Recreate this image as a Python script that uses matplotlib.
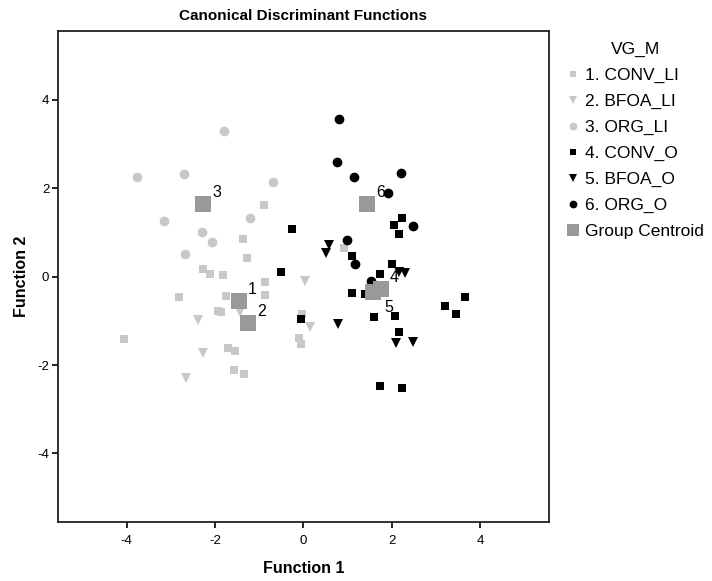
import numpy as np
import matplotlib.pyplot as plt

narrow = ['Liberation Sans Narrow', 'DejaVu Sans Condensed', 'Liberation Sans', 'DejaVu Sans']
plain = ['Liberation Sans', 'DejaVu Sans']
plt.rcParams['font.family'] = narrow
plt.rcParams['axes.unicode_minus'] = False

# discriminant scores (Function 1, Function 2)
conv_li_x = [-0.90, -1.36, -1.27, -2.28, -2.11, -1.81, -0.86, -0.87, -2.81, -1.76, -1.92,
             -1.87, -4.05, -1.71, -1.55, -1.58, -1.34, -0.10, -0.05, -0.03, 0.93]
conv_li_y = [1.63, 0.85, 0.43, 0.17, 0.06, 0.04, -0.13, -0.41, -0.45, -0.44, -0.78,
             -0.80, -1.42, -1.62, -1.68, -2.11, -2.20, -1.39, -1.52, -0.85, 0.64]

bfoa_li_x = [0.04, -1.43, -2.39, -2.28, -2.66, 0.15]
bfoa_li_y = [-0.09, -0.79, -0.97, -1.73, -2.30, -1.14]

org_li_x = [-1.79, -3.77, -2.70, -0.69, -3.16, -1.21, -2.29, -2.06, -2.67]
org_li_y = [3.30, 2.25, 2.32, 2.15, 1.25, 1.34, 1.02, 0.78, 0.51]

conv_o_x = [-0.25, -0.51, 2.23, 2.05, 2.17, 1.10, 2.00, 1.74, 1.11, 1.40, 1.59, 2.08,
            2.16, 3.20, 3.46, 3.65, -0.05, 1.74, 2.23]
conv_o_y = [1.07, 0.10, 1.32, 1.17, 0.96, 0.46, 0.28, 0.07, -0.36, -0.40, -0.92, -0.88,
            -1.25, -0.66, -0.85, -0.47, -0.95, -2.47, -2.53]

bfoa_o_x = [0.59, 0.51, 2.16, 2.30, 0.79, 2.10, 2.49]
bfoa_o_y = [0.71, 0.53, 0.11, 0.08, -1.06, -1.49, -1.48]

org_o_x = [0.80, 0.76, 1.14, 2.22, 1.92, 2.48, 0.99, 1.17, 1.54]
org_o_y = [3.57, 2.59, 2.25, 2.35, 1.89, 1.15, 0.82, 0.28, -0.09]

centroid_lbl = ['1', '2', '3', '4', '5', '6']
centroid_x = [-1.46, -1.25, -2.26, 1.76, 1.58, 1.45]
centroid_y = [-0.55, -1.04, 1.65, -0.28, -0.35, 1.64]

group_names = ['1. CONV_LI', '2. BFOA_LI', '3. ORG_LI', '4. CONV_O', '5. BFOA_O', '6. ORG_O']

light = '#c8c8c8'
dark = 'black'

fig = plt.figure(figsize=(7.12, 5.81), dpi=100)
ax = fig.add_axes([0.081, 0.101, 0.690, 0.8455])

groups = [(conv_li_x, conv_li_y, 's', light, 5.3),
          (bfoa_li_x, bfoa_li_y, 'v', light, 7.5),
          (org_li_x, org_li_y, 'o', light, 7),
          (conv_o_x, conv_o_y, 's', dark, 5.3),
          (bfoa_o_x, bfoa_o_y, 'v', dark, 7.5),
          (org_o_x, org_o_y, 'o', dark, 7)]
for (gx, gy, m, c, ms), name in zip(groups, group_names):
    ax.plot(gx, gy, ls='none', marker=m, color=c, ms=ms, mew=0, label=name, zorder=3)

ax.plot(centroid_x, centroid_y, ls='none', marker='s', color='#999999', ms=11, mew=0,
        label='Group Centroid', zorder=4)
for lb, cx, cy in zip(centroid_lbl, centroid_x, centroid_y):
    off = (11, -20) if lb == '5' else (9, 7)
    ax.annotate(lb, (cx, cy), xytext=off, textcoords='offset pixels',
                fontsize=11.5, family=plain, zorder=5)

ax.set_xlim(-5.56, 5.56)
ax.set_ylim(-5.56, 5.56)
ax.set_xticks([-4, -2, 0, 2, 4])
ax.set_yticks([-4, -2, 0, 2, 4])
ax.tick_params(direction='out', length=4, width=1.2, labelsize=9.5)
ax.tick_params(axis='x', pad=5)
ax.tick_params(axis='y', pad=2)
for s in ax.spines.values():
    s.set_linewidth(1.3)
    s.set_color('#222222')

ax.set_title('Canonical Discriminant Functions', fontsize=11, fontweight='bold', pad=8)
ax.set_xlabel('Function 1', fontsize=11.5, fontweight='bold', labelpad=10)
ax.set_ylabel('Function 2', fontsize=11.5, fontweight='bold', labelpad=6)

leg = fig.legend(loc='upper left', bbox_to_anchor=(0.775, 0.955), frameon=False,
                 title='VG_M', markerscale=0.8,
                 handlelength=0.6, handletextpad=0.4, labelspacing=0.62,
                 prop={'family': plain, 'size': 12.5})
leg.get_title().set_family(plain)
leg.get_title().set_fontsize(12.5)

fig.savefig('out.png', dpi=100)
